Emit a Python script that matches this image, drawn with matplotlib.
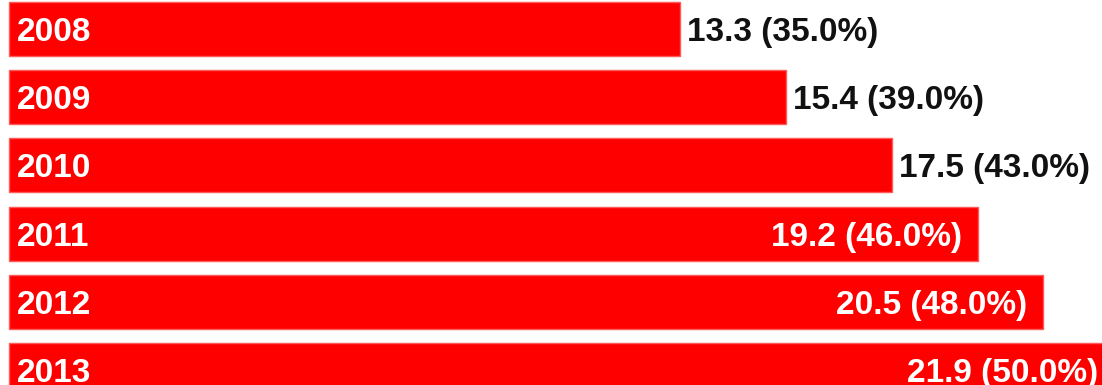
import matplotlib
matplotlib.use('Agg')
import matplotlib.pyplot as plt

# data
years = ['2008', '2009', '2010', '2011', '2012', '2013']
values = [13.3, 15.4, 17.5, 19.2, 20.5, 21.9]
shares = [35.0, 39.0, 43.0, 46.0, 48.0, 50.0]
inside = [False, False, False, True, True, True]  # value label inside the bar?

W, H = 1102, 385
fig = plt.figure(figsize=(W / 100, H / 100), dpi=100)
fig.patch.set_facecolor('white')
ax = fig.add_axes([0, 0, 1, 1])
ax.set_facecolor('white')

# 1 value unit = ~50.45 px, bar zero sits at x=9 px; bar pitch ~68.2 px
px_per_unit = 50.45
ax.set_xlim(-9 / px_per_unit, (W - 9) / px_per_unit)
pitch = 68.2
ax.set_ylim((H - 29) / pitch, -29 / pitch)
ax.axis('off')

ypos = list(range(len(years)))
ax.barh(ypos, values, height=0.79, color='#ff0000', edgecolor='#ff5a5a',
        linewidth=1.0, zorder=2)

font = dict(family=['Liberation Sans', 'DejaVu Sans'], fontweight='bold', fontsize=24)
pad_in = 16 / px_per_unit
pad_out = 7 / px_per_unit
for y, yr, v, s, ins in zip(ypos, years, values, shares, inside):
    ax.text(8 / px_per_unit, y, yr, color='white', ha='left', va='center_baseline',
            zorder=3, **font)
    lab = f'{v:.1f} ({s:.1f}%)'
    if ins:
        ax.text(v - pad_in, y, lab, color='white', ha='right', va='center_baseline',
                zorder=3, **font)
    else:
        ax.text(v + pad_out, y, lab, color='#111111', ha='left', va='center_baseline',
                zorder=3, **font)

fig.savefig('out.png', dpi=100, facecolor='white')
